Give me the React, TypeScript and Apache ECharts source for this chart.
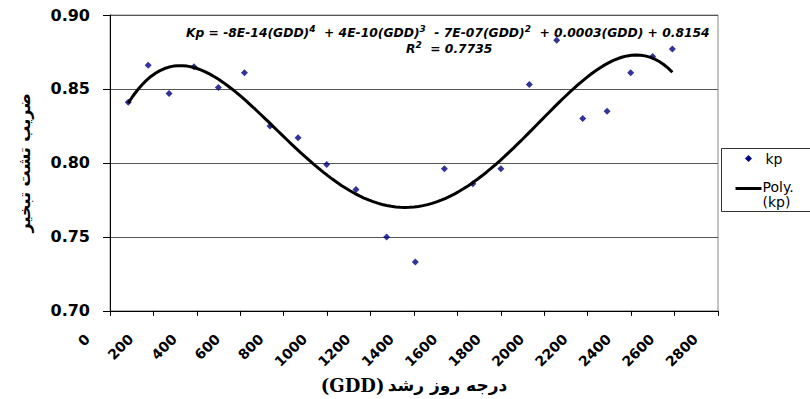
import React, { useEffect, useRef } from "react";
import * as echarts from "echarts";

// GDD (growing degree days) of each observation
const gddValues = [84, 176, 272, 387, 499, 619, 737, 866, 998, 1133, 1274, 1406, 1540, 1671, 1800, 1931, 2057, 2177, 2289, 2398, 2499, 2590];
// pan evaporation coefficient kp
const kpValues = [0.841, 0.866, 0.847, 0.865, 0.851, 0.861, 0.825, 0.817, 0.799, 0.782, 0.750, 0.733, 0.796, 0.786, 0.796, 0.853, 0.883, 0.830, 0.835, 0.861, 0.872, 0.877];

const xMin = 0;
const xMax = 2800;
const xStep = 200;
const yMin = 0.7;
const yMax = 0.9;
const yStep = 0.05;

const equationText = "Kp = -8E-14(GDD)";
const seriesName = "kp";
const trendName = "Poly. (kp)";
const r2Text = "0.7735";

// least squares polynomial (Excel-style trendline) fitted to the data
function polyFit(xs: number[], ys: number[], deg: number): number[] {
  const n = deg + 1;
  const A: number[][] = Array.from({ length: n }, () => new Array(n + 1).fill(0));
  for (let k = 0; k < xs.length; k++) {
    const t = xs[k] / 1000;
    const pw: number[] = [];
    for (let i = 0; i < 2 * n; i++) pw.push(Math.pow(t, i));
    for (let i = 0; i < n; i++) {
      for (let j = 0; j < n; j++) A[i][j] += pw[i + j];
      A[i][n] += ys[k] * pw[i];
    }
  }
  for (let c = 0; c < n; c++) {
    let p = c;
    for (let r = c + 1; r < n; r++) if (Math.abs(A[r][c]) > Math.abs(A[p][c])) p = r;
    [A[c], A[p]] = [A[p], A[c]];
    for (let r = 0; r < n; r++) {
      if (r === c) continue;
      const f = A[r][c] / A[c][c];
      for (let j = c; j <= n; j++) A[r][j] -= f * A[c][j];
    }
  }
  return A.map((row, i) => row[n] / A[i][i]);
}

function buildTrend(): number[][] {
  const coef = polyFit(gddValues, kpValues, 4);
  const lo = Math.min(...gddValues);
  const hi = Math.max(...gddValues);
  const pts: number[][] = [];
  const steps = 120;
  for (let i = 0; i <= steps; i++) {
    const x = lo + ((hi - lo) * i) / steps;
    const t = x / 1000;
    let y = 0;
    for (let j = coef.length - 1; j >= 0; j--) y = y * t + coef[j];
    pts.push([x, y]);
  }
  return pts;
}

const FONT = "'DejaVu Sans', 'Liberation Sans', Arial, sans-serif";

export default function App() {
  const ref = useRef<HTMLDivElement>(null);
  useEffect(() => {
    if (!ref.current) return;
    const chart = echarts.init(ref.current, undefined, { renderer: "svg" });
    const scatterData = gddValues.map((x, i) => [x, kpValues[i]]);
    const eqRich = {
      n: { fontFamily: FONT, fontWeight: "bold", fontStyle: "italic", fontSize: 12.3, fill: "#000", verticalAlign: "bottom", lineHeight: 15 },
      s: { fontFamily: FONT, fontWeight: "bold", fontStyle: "italic", fontSize: 9, fill: "#000", verticalAlign: "top", lineHeight: 15 },
    };
    chart.setOption({
      animation: false,
      backgroundColor: "#ffffff",
      grid: {
        left: 110,
        right: 92,
        top: 15,
        bottom: 87,
        show: true,
        borderColor: "#8a8a8a",
        borderWidth: 1,
        backgroundColor: "transparent",
      },
      xAxis: {
        type: "value",
        min: xMin,
        max: xMax,
        interval: xStep,
        axisLine: { show: true, onZero: false, lineStyle: { color: "#000", width: 1 } },
        axisTick: { show: true, length: 5, lineStyle: { color: "#000" } },
        splitLine: { show: false },
        axisLabel: {
          rotate: 45,
          margin: 3,
          padding: [0, 32, 0, 0],
          color: "#000",
          fontFamily: FONT,
          fontWeight: "bold",
          fontSize: 14,
          hideOverlap: false,
          showMinLabel: true,
          showMaxLabel: true,
          formatter: (v: number) => String(v),
        },
        name: "{e|(GDD)} {p|درجه روز رشد}",
        nameLocation: "middle",
        nameGap: 60,
        nameTextStyle: {
          rich: {
            e: { fontFamily: "'DejaVu Serif', 'Liberation Serif', serif", fontWeight: "bold", fontSize: 18, color: "#000" },
            p: { fontFamily: FONT, fontWeight: "bold", fontSize: 17, color: "#000" },
          },
        },
      },
      yAxis: {
        type: "value",
        min: yMin,
        max: yMax,
        interval: yStep,
        axisLine: { show: true, lineStyle: { color: "#000", width: 1 } },
        axisTick: { show: true, length: 7, lineStyle: { color: "#000" } },
        splitLine: { show: true, lineStyle: { color: "#555", width: 1 } },
        axisLabel: {
          margin: 20,
          color: "#000",
          fontFamily: FONT,
          fontWeight: "bold",
          fontSize: 16,
          formatter: (v: number) => v.toFixed(2),
        },
        name: "ضریب تشت تبخیر",
        nameLocation: "middle",
        nameGap: 78,
        nameRotate: 90,
        nameTextStyle: { fontFamily: FONT, fontWeight: "bold", fontSize: 16, color: "#000" },
      },
      series: [
        {
          name: seriesName,
          type: "scatter",
          data: scatterData,
          symbol: "diamond",
          symbolSize: 7,
          itemStyle: { color: "#000080" },
          z: 2,
        },
        {
          name: trendName,
          type: "line",
          data: buildTrend(),
          showSymbol: false,
          smooth: false,
          lineStyle: { color: "#000", width: 3 },
          z: 3,
        },
      ],
      graphic: [
        {
          type: "text",
          left: 186,
          top: 24,
          style: {
            text:
              "{n|" + equationText + "}{s|4}{n|  + 4E-10(GDD)}{s|3}{n|  - 7E-07(GDD)}{s|2}{n|  + 0.0003(GDD) + 0.8154}",
            rich: eqRich,
          },
        },
        {
          type: "text",
          left: 406,
          top: 40,
          style: {
            text: "{n|R}{s|2}{n|  = " + r2Text + "}",
            rich: eqRich,
          },
        },
        {
          type: "group",
          left: 721,
          top: 148,
          children: [
            { type: "rect", shape: { x: 0, y: 0, width: 100, height: 63 }, style: { fill: "#fff", stroke: "#333", lineWidth: 1 } },
            { type: "polygon", shape: { points: [[27, 6.5], [30.5, 10], [27, 13.5], [23.5, 10]] }, style: { fill: "#000080" } },
            { type: "text", x: 44, y: 10, style: { text: seriesName, fontFamily: FONT, fontSize: 14, fill: "#000", verticalAlign: "middle" } },
            { type: "line", shape: { x1: 14, y1: 40, x2: 40, y2: 40 }, style: { stroke: "#000", lineWidth: 3 } },
            { type: "text", x: 41, y: 38, style: { text: "Poly.", fontFamily: FONT, fontSize: 14, fill: "#000", verticalAlign: "middle" } },
            { type: "text", x: 41, y: 53, style: { text: "(kp)", fontFamily: FONT, fontSize: 14, fill: "#000", verticalAlign: "middle" } },
          ],
        },
      ],
    });
    return () => chart.dispose();
  }, []);
  return (
    <div
      ref={ref}
      style={{ position: "absolute", left: 0, top: 0, width: 810, height: 399 }}
    />
  );
}
